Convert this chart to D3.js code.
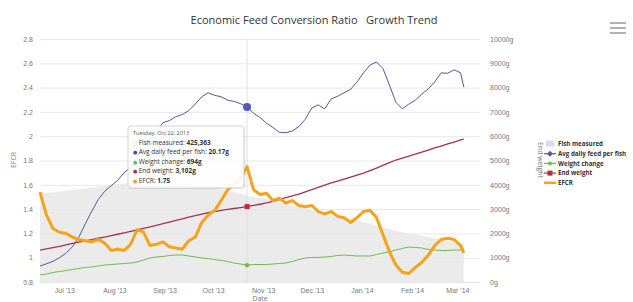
<!DOCTYPE html>
<html>
<head>
<meta charset="utf-8">
<script src="https://cdn.jsdelivr.net/npm/d3@7"></script>
<style>
  body { margin: 0; background: #fff; }
  svg { font-family: "Open Sans", "DejaVu Sans", sans-serif; }
</style>
</head>
<body>
<svg id="chart" width="633" height="302"></svg>
<script>
// sample dates (every 4 days, last one the final reading)
const dates = [
  "2013-06-16","2013-06-20","2013-06-24","2013-06-28",
  "2013-07-02","2013-07-06","2013-07-10","2013-07-14","2013-07-18","2013-07-22","2013-07-26","2013-07-30",
  "2013-08-03","2013-08-07","2013-08-11","2013-08-15","2013-08-19","2013-08-23","2013-08-27","2013-08-31",
  "2013-09-04","2013-09-08","2013-09-12","2013-09-16","2013-09-20","2013-09-24","2013-09-28",
  "2013-10-02","2013-10-06","2013-10-10","2013-10-14","2013-10-18","2013-10-22","2013-10-26","2013-10-30",
  "2013-11-03","2013-11-07","2013-11-11","2013-11-15","2013-11-19","2013-11-23","2013-11-27",
  "2013-12-01","2013-12-05","2013-12-09","2013-12-13","2013-12-17","2013-12-21","2013-12-25","2013-12-29",
  "2014-01-02","2014-01-06","2014-01-10","2014-01-14","2014-01-18","2014-01-22","2014-01-26","2014-01-30",
  "2014-02-03","2014-02-07","2014-02-11","2014-02-15","2014-02-19","2014-02-23","2014-02-27",
  "2014-03-03","2014-03-05"
];

const fishMeasured = [
  439100, 441300, 443800, 447200, 450600, 454100, 457900, 462300, 466000, 470400,
  474200, 478100, 482500, 486900, 490700, 494300, 493200, 492100, 491400, 490200,
  488900, 487300, 485100, 483200, 480700, 477900, 472300, 465100, 458200, 451000,
  443800, 435900, 425363, 420100, 415200, 409800, 402300, 394100, 386200, 378300,
  370100, 362400, 354200, 346300, 338500, 331200, 324100, 317300, 310200, 303100,
  295800, 287200, 278400, 269900, 261300, 252400, 246200, 240100, 234300, 228200,
  222100, 216300, 210200, 204100, 198300, 193200, 191100
];

const avgDailyFeed = [
  1.84, 2.10, 2.38, 2.80, 3.30, 4.05, 5.15, 6.70, 8.15, 9.50,
  10.45, 11.10, 11.70, 12.60, 13.20, 14.30, 15.30, 16.40, 17.35, 18.35,
  18.60, 19.05, 19.30, 19.75, 20.50, 21.35, 21.80, 21.50, 21.35, 20.95,
  20.80, 20.55, 20.17, 19.45, 18.95, 18.30, 17.80, 17.25, 17.20, 17.40,
  17.90, 18.75, 20.05, 20.40, 19.95, 21.10, 21.40, 21.80, 22.20, 23.05,
  24.10, 25.00, 25.35, 24.60, 22.70, 20.70, 19.95, 20.50, 20.95, 21.65,
  22.25, 23.05, 24.10, 24.05, 24.45, 24.10, 22.45
];

const weightChange = [
  290, 330, 390, 430, 470, 515, 555, 600, 620, 660,
  700, 720, 740, 760, 780, 825, 905, 990, 1030, 1050,
  1090, 1110, 1110, 1070, 1030, 990, 965, 925, 885, 845,
  780, 740, 694, 720, 718, 722, 740, 760, 782, 845,
  925, 988, 1008, 1010, 1030, 1050, 1090, 1110, 1090, 1070,
  1072, 1068, 1132, 1193, 1235, 1317, 1380, 1440, 1420, 1400,
  1337, 1317, 1296, 1298, 1317, 1315, 1318
];

const endWeight = [
  1310, 1360, 1415, 1470, 1530, 1585, 1640, 1690, 1745, 1800,
  1850, 1905, 1965, 2025, 2085, 2140, 2205, 2270, 2335, 2400,
  2465, 2535, 2600, 2665, 2730, 2795, 2850, 2900, 2950, 2990,
  3025, 3065, 3102, 3150, 3200, 3255, 3320, 3395, 3470, 3545,
  3620, 3710, 3800, 3890, 3985, 4075, 4155, 4235, 4320, 4400,
  4485, 4585, 4690, 4800, 4910, 5020, 5100, 5180, 5260, 5345,
  5430, 5515, 5595, 5680, 5760, 5845, 5880
];

const efcr = [
  1.54, 1.35, 1.24, 1.21, 1.20, 1.17, 1.15, 1.14, 1.13, 1.15,
  1.12, 1.06, 1.07, 1.06, 1.11, 1.23, 1.21, 1.10, 1.11, 1.13,
  1.09, 1.08, 1.07, 1.14, 1.17, 1.29, 1.35, 1.39, 1.47, 1.56,
  1.60, 1.65, 1.75, 1.56, 1.52, 1.53, 1.47, 1.49, 1.45, 1.47,
  1.43, 1.42, 1.43, 1.38, 1.36, 1.38, 1.34, 1.33, 1.29, 1.33,
  1.38, 1.39, 1.33, 1.19, 1.05, 0.94, 0.88, 0.87, 0.92, 0.96,
  1.02, 1.10, 1.15, 1.16, 1.15, 1.10, 1.04
];

const efcrTicks = [0.8, 1, 1.2, 1.4, 1.6, 1.8, 2, 2.2, 2.4, 2.6, 2.8];
const weightTicks = [0, 1000, 2000, 3000, 4000, 5000, 6000, 7000, 8000, 9000, 10000];
const monthTicks = ["2013-07-01","2013-08-01","2013-09-01","2013-10-01","2013-11-01",
                    "2013-12-01","2014-01-01","2014-02-01","2014-03-01"];

const seriesNames = ["Fish measured", "Avg daily feed per fish", "Weight change", "End weight", "EFCR"];
const seriesColors = ["#dcdce8", "#55579f", "#6cbd4a", "#a8324a", "#f7a21b"];

const hoverIndex = 32;   // Tuesday, Oct 22, 2013

const parse = d3.timeParse("%Y-%m-%d");
const dateVals = dates.map(parse);

const plotLeft = 40, plotRight = 480, plotTop = 39, plotBottom = 282;

const svg = d3.select("#chart");

const x = d3.scaleTime()
  .domain([parse("2013-06-16"), parse("2014-03-15")])
  .range([plotLeft, plotRight]);
const yEfcr = d3.scaleLinear().domain([0.8, 2.8]).range([plotBottom, plotTop]);
const yWeight = d3.scaleLinear().domain([0, 10000]).range([plotBottom, plotTop]);
const yFeed = d3.scaleLinear().domain([0, 28]).range([plotBottom, plotTop]);     // hidden axis
const yFish = d3.scaleLinear().domain([0, 1200000]).range([plotBottom, plotTop]); // hidden axis

// title
svg.append("text")
  .attr("x", 314).attr("y", 24)
  .attr("text-anchor", "middle")
  .attr("font-size", "11px")
  .attr("fill", "#333")
  .style("white-space", "pre")
  .text("Economic Feed Conversion Ratio   Growth Trend");

// menu button
svg.append("g").selectAll("line")
  .data([23, 28, 33]).enter()
  .append("line")
  .attr("x1", 610).attr("x2", 626)
  .attr("y1", d => d).attr("y2", d => d)
  .attr("stroke", "#666").attr("stroke-width", 1);

// left axis + grid
svg.append("g")
  .attr("transform", "translate(" + plotLeft + ",0)")
  .call(d3.axisLeft(yEfcr).tickValues(efcrTicks).tickSize(-(plotRight - plotLeft)).tickPadding(7)
    .tickFormat(d3.format("")))
  .call(g => g.select(".domain").remove())
  .call(g => g.selectAll("line").attr("stroke", "#e8e8e8"))
  .call(g => g.selectAll("text").attr("fill", "#777").attr("font-size", "7px"));

// right axis
svg.append("g")
  .attr("transform", "translate(490,0)")
  .call(d3.axisRight(yWeight).tickValues(weightTicks).tickSize(0).tickPadding(0)
    .tickFormat(d => d + "g"))
  .call(g => g.select(".domain").remove())
  .call(g => g.selectAll("text").attr("fill", "#777").attr("font-size", "7px"));

// x axis
svg.append("g")
  .attr("transform", "translate(0," + plotBottom + ")")
  .call(d3.axisBottom(x).tickValues(monthTicks.map(parse)).tickSize(0).tickPadding(6)
    .tickFormat(d3.timeFormat("%b '%y")))
  .call(g => g.select(".domain").attr("stroke", "#e6e6e6"))
  .call(g => g.selectAll("text").attr("fill", "#777").attr("font-size", "7px"));

// axis titles
svg.append("text")
  .attr("transform", "translate(16,160) rotate(-90)")
  .attr("text-anchor", "middle").attr("font-size", "7px").attr("fill", "#777")
  .text("EFCR");
svg.append("text")
  .attr("transform", "translate(538,160) rotate(90)")
  .attr("text-anchor", "middle").attr("font-size", "7px").attr("fill", "#777")
  .text("End weight");
svg.append("text")
  .attr("x", 260).attr("y", 301)
  .attr("text-anchor", "middle").attr("font-size", "7px").attr("fill", "#777")
  .text("Date");

// fish measured area
svg.append("path")
  .datum(fishMeasured)
  .attr("fill", "#e7e7e9")
  .attr("fill-opacity", 0.85)
  .attr("d", d3.area()
    .x((d, i) => x(dateVals[i]))
    .y0(plotBottom)
    .y1(d => yFish(d)));

// crosshair
svg.append("line")
  .attr("x1", x(dateVals[hoverIndex])).attr("x2", x(dateVals[hoverIndex]))
  .attr("y1", plotTop).attr("y2", plotBottom)
  .attr("stroke", "#e0e0e0").attr("stroke-width", 1);

const lineOf = (vals, scale) => d3.line()
  .x((d, i) => x(dateVals[i]))
  .y(d => scale(d))(vals);

svg.append("path").attr("d", lineOf(avgDailyFeed, yFeed))
  .attr("fill", "none").attr("stroke", seriesColors[1]).attr("stroke-width", 1);
svg.append("path").attr("d", lineOf(weightChange, yWeight))
  .attr("fill", "none").attr("stroke", seriesColors[2]).attr("stroke-width", 1);
svg.append("path").attr("d", lineOf(endWeight, yWeight))
  .attr("fill", "none").attr("stroke", seriesColors[3]).attr("stroke-width", 1.3);
svg.append("path").attr("d", lineOf(efcr, yEfcr))
  .attr("fill", "none").attr("stroke", seriesColors[4]).attr("stroke-width", 3)
  .attr("stroke-linejoin", "round");

// hover markers
const hx = x(dateVals[hoverIndex]);
svg.append("circle").attr("cx", hx).attr("cy", yFeed(avgDailyFeed[hoverIndex]))
  .attr("r", 4).attr("fill", "#5656c8");
svg.append("circle").attr("cx", hx).attr("cy", yWeight(weightChange[hoverIndex]))
  .attr("r", 2.2).attr("fill", seriesColors[2]);
svg.append("rect").attr("x", hx - 2.5).attr("y", yWeight(endWeight[hoverIndex]) - 2.5)
  .attr("width", 5).attr("height", 5).attr("fill", "#c0283c");

// tooltip
const tip = svg.append("g").attr("transform", "translate(128,126)");
tip.append("rect")
  .attr("x", 1).attr("y", 1).attr("width", 116).attr("height", 62)
  .attr("rx", 3).attr("fill", "#000").attr("fill-opacity", 0.06);
tip.append("rect")
  .attr("width", 116).attr("height", 62).attr("rx", 3)
  .attr("fill", "#fff").attr("fill-opacity", 0.92)
  .attr("stroke", "#c8c8c8").attr("stroke-width", 0.8);
tip.append("text").attr("x", 5).attr("y", 9)
  .attr("font-size", "5.5px").attr("fill", "#555")
  .text(d3.timeFormat("%A, %b %e, %Y")(dateVals[hoverIndex]).replace("  ", " "));

const tipRows = [
  { sym: "\u25CB", color: "#bbb", label: seriesNames[0], value: d3.format(",")(fishMeasured[hoverIndex]) },
  { sym: "\u25CF", color: "#4a4aa8", label: seriesNames[1], value: avgDailyFeed[hoverIndex] + "g" },
  { sym: "\u25CF", color: seriesColors[2], label: seriesNames[2], value: weightChange[hoverIndex] + "g" },
  { sym: "\u25CF", color: seriesColors[3], label: seriesNames[3], value: d3.format(",")(endWeight[hoverIndex]) + "g" },
  { sym: "\u25CF", color: seriesColors[4], label: seriesNames[4], value: efcr[hoverIndex] }
];
tipRows.forEach((r, i) => {
  const t = tip.append("text")
    .attr("x", 5).attr("y", 19 + i * 9.4)
    .attr("font-size", "6.5px").attr("fill", "#333");
  t.append("tspan").attr("fill", r.color).attr("font-size", "5px").text(r.sym + " ");
  t.append("tspan").text(r.label + ": ");
  t.append("tspan").attr("font-weight", "bold").text(r.value);
});

// legend
const legend = svg.append("g").attr("transform", "translate(544,144)");
seriesNames.forEach((name, i) => {
  const g = legend.append("g").attr("transform", "translate(0," + (i * 9.7) + ")");
  if (i === 0) {
    g.append("rect").attr("x", 2).attr("y", -3.5).attr("width", 8).attr("height", 6)
      .attr("fill", seriesColors[0]);
  } else {
    g.append("line").attr("x1", 0).attr("x2", 12).attr("y1", 0).attr("y2", 0)
      .attr("stroke", seriesColors[i]).attr("stroke-width", i === 4 ? 2.5 : 1.2);
    if (i === 1) {
      g.append("path").attr("d", "M6,-3L9,0L6,3L3,0Z").attr("fill", seriesColors[i]);
    } else if (i === 2) {
      g.append("circle").attr("cx", 6).attr("cy", 0).attr("r", 2).attr("fill", seriesColors[i]);
    } else if (i === 3) {
      g.append("rect").attr("x", 3.5).attr("y", -2.5).attr("width", 5).attr("height", 5)
        .attr("fill", seriesColors[i]);
    }
  }
  g.append("text").attr("x", 14).attr("y", 2.3)
    .attr("font-size", "6.2px").attr("font-weight", "bold").attr("fill", "#333")
    .text(name);
});
</script>
</body>
</html>
